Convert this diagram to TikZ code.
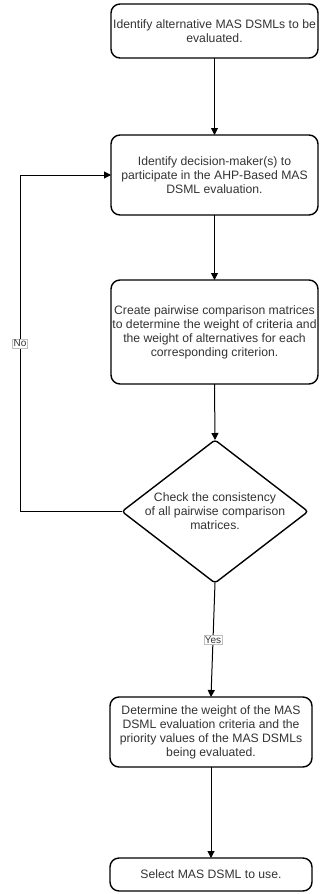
\documentclass[tikz,border=0pt]{standalone}
\usepackage{fontspec}
\setmainfont{Liberation Sans}
\usetikzlibrary{arrows.meta,shapes.geometric,positioning}
\definecolor{darktext}{HTML}{333333}
\tikzset{
  procbox/.style={draw=black,line width=1.4pt,rounded corners=9pt,inner sep=0pt,outer sep=0pt,
    align=center,text=darktext,font=\fontsize{12.2}{14}\selectfont},
  decision/.style={diamond,draw=black,line width=1.4pt,rounded corners=3pt,inner sep=0pt,outer sep=0pt,
    minimum width=186pt,minimum height=143pt},
  flowtext/.style={align=center,text=darktext,font=\fontsize{12.2}{14}\selectfont},
  branch/.style={fill=white,draw=black!25,line width=0.4pt,inner sep=1pt,text=darktext,
    font=\fontsize{10}{11}\selectfont},
  flow/.style={line width=1pt,-{Triangle[length=7pt,width=7pt]}}
}

\begin{document}
\begin{tikzpicture}[x=1pt,y=-1pt]
\useasboundingbox (0,0) rectangle (320,894);
\node[procbox,minimum width=207pt,minimum height=54pt] (alt) at (214.5,31)
  {Identify alternative MAS DSMLs to be\\evaluated.};
\node[procbox,minimum width=207pt,minimum height=80pt] (dm) at (214.5,175)
  {Identify decision-maker(s) to\\participate in the AHP-Based MAS\\DSML evaluation.};
\node[procbox,minimum width=207pt,minimum height=104pt] (pcm) at (214.5,332)
  {Create pairwise comparison matrices\\to determine the weight of criteria and\\the weight of alternatives for each\\corresponding criterion.};
\node[decision] (check) at (215,511.5) {};
\node[flowtext] (checktext) at (check) {Check the consistency\\of all pairwise comparison\\matrices.};
\node[procbox,minimum width=202pt,minimum height=70pt] (weight) at (211,732)
  {Determine the weight of the MAS\\DSML evaluation criteria and the\\priority values of the MAS DSMLs\\being evaluated.};
\node[procbox,minimum width=202pt,minimum height=33pt] (sel) at (211,874.5)
  {Select MAS DSML to use.};
\coordinate (nocorner) at (20,511.5);
% connectors
\draw [flow] (alt) -- (dm);
\draw [flow] (dm) -- (pcm);
\draw [flow] (pcm.south) -- (check.north);
\draw [flow] (check.south) -- node[branch] {Yes} (weight.north);
\draw [flow] (check.west) -- (nocorner) |- node[branch,pos=0.25] {No} (dm.west);
\draw [flow] (weight) -- (sel);
\end{tikzpicture}
\end{document}
